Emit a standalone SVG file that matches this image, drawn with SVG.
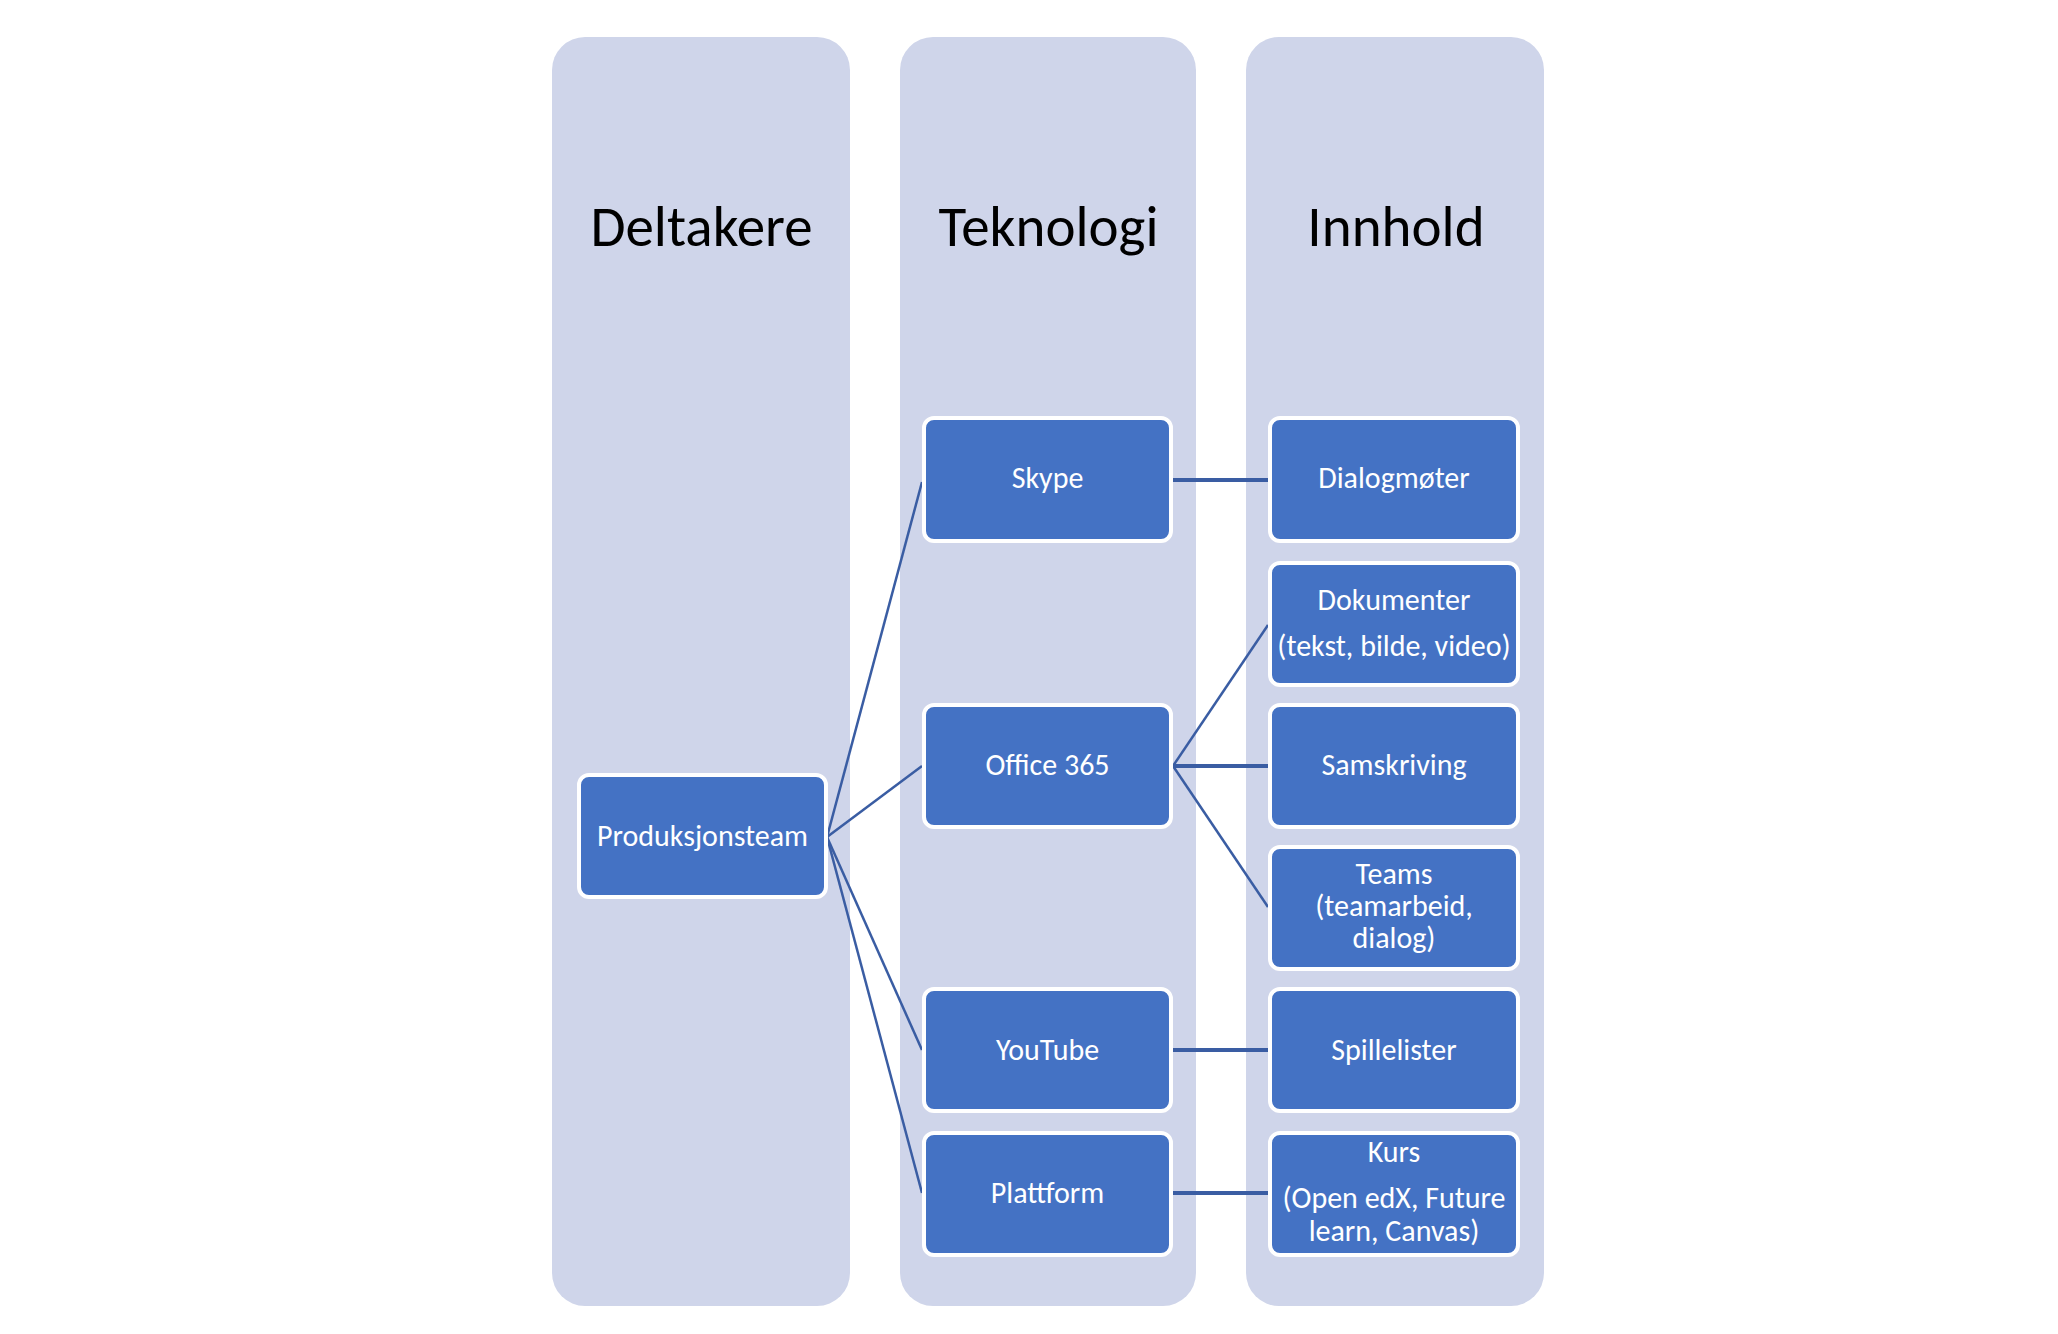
<svg xmlns="http://www.w3.org/2000/svg" width="2058" height="1334" viewBox="0 0 2058 1334">
<style>
.col{fill:#CFD5EA}
.hd{font-family:"Carlito","Liberation Sans",Arial,sans-serif;font-size:57px;fill:#000;text-anchor:middle}
.box{fill:#4472C4;stroke:#FFFFFF;stroke-width:4}
.lb{font-family:"Carlito","Liberation Sans",Arial,sans-serif;font-size:30px;fill:#FFFFFF;text-anchor:middle}
.cn{stroke:#3A5DA3;stroke-width:2.5;fill:none}
.ch{stroke:#3A5DA3;stroke-width:4;fill:none}
</style>
<rect width="2058" height="1334" fill="#FFFFFF"/>
<g id="col-deltakere"><rect class="col" x="552" y="37" width="298" height="1269" rx="33" ry="33"/><text class="hd" x="701.5" y="246">Deltakere</text></g>
<g id="col-teknologi"><rect class="col" x="900" y="37" width="296" height="1269" rx="33" ry="33"/><text class="hd" x="1048.5" y="246">Teknologi</text></g>
<g id="col-innhold"><rect class="col" x="1246" y="37" width="298" height="1269" rx="33" ry="33"/><text class="hd" x="1396" y="246">Innhold</text></g>
<g id="connectors">
<line class="cn" x1="827" y1="837" x2="922" y2="482"/>
<line class="cn" x1="827" y1="837" x2="922" y2="766"/>
<line class="cn" x1="827" y1="837" x2="922" y2="1050"/>
<line class="cn" x1="827" y1="837" x2="922" y2="1193"/>
<line class="ch" x1="1173" y1="480" x2="1268" y2="480"/>
<line class="cn" x1="1173" y1="766" x2="1268" y2="625"/>
<line class="ch" x1="1173" y1="766" x2="1268" y2="766"/>
<line class="cn" x1="1173" y1="766" x2="1268" y2="907"/>
<line class="ch" x1="1173" y1="1050" x2="1268" y2="1050"/>
<line class="ch" x1="1173" y1="1193" x2="1268" y2="1193"/>
</g>
<g id="produksjonsteam"><rect class="box" x="579" y="775" width="247" height="122" rx="10"/><text class="lb" x="702.5" y="846">Produksjonsteam</text></g>
<g id="skype"><rect class="box" x="924" y="418" width="247" height="123" rx="10"/><text class="lb" x="1047.5" y="488">Skype</text></g>
<g id="office365"><rect class="box" x="924" y="705" width="247" height="122" rx="10"/><text class="lb" x="1047.5" y="775">Office 365</text></g>
<g id="youtube"><rect class="box" x="924" y="989" width="247" height="122" rx="10"/><text class="lb" x="1047.5" y="1060">YouTube</text></g>
<g id="plattform"><rect class="box" x="924" y="1133" width="247" height="122" rx="10"/><text class="lb" x="1047.5" y="1203">Plattform</text></g>
<g id="dialogmoter"><rect class="box" x="1270" y="418" width="248" height="123" rx="10"/><text class="lb" x="1394" y="488">Dialogmøter</text></g>
<g id="dokumenter"><rect class="box" x="1270" y="563" width="248" height="122" rx="10"/><text class="lb" x="1394" y="610">Dokumenter</text><text class="lb" x="1394" y="656">(tekst, bilde, video)</text></g>
<g id="samskriving"><rect class="box" x="1270" y="705" width="248" height="122" rx="10"/><text class="lb" x="1394" y="775">Samskriving</text></g>
<g id="teams"><rect class="box" x="1270" y="847" width="248" height="122" rx="10"/><text class="lb" x="1394" y="884">Teams</text><text class="lb" x="1394" y="916">(teamarbeid,</text><text class="lb" x="1394" y="948">dialog)</text></g>
<g id="spillelister"><rect class="box" x="1270" y="989" width="248" height="122" rx="10"/><text class="lb" x="1394" y="1060">Spillelister</text></g>
<g id="kurs"><rect class="box" x="1270" y="1133" width="248" height="122" rx="10"/><text class="lb" x="1394" y="1162">Kurs</text><text class="lb" x="1394" y="1208">(Open edX, Future</text><text class="lb" x="1394" y="1241">learn, Canvas)</text></g>
</svg>
